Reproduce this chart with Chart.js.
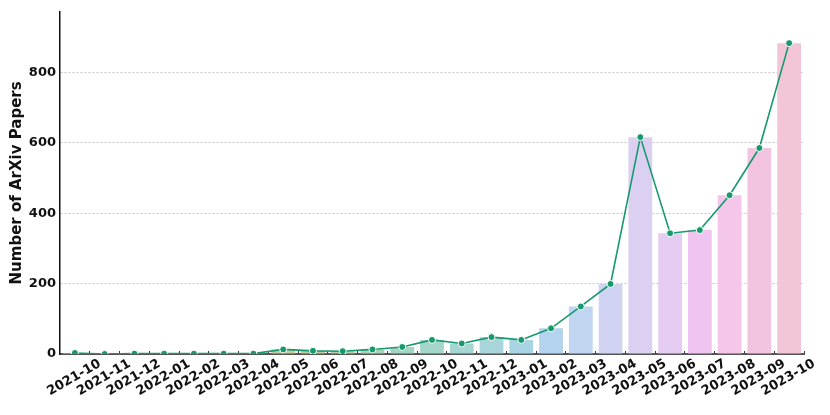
<!DOCTYPE html>
<html>
<head>
<meta charset="utf-8">
<script src="https://cdn.jsdelivr.net/npm/chart.js@4.4.1/dist/chart.umd.min.js"></script>
<style>
  html, body { margin: 0; padding: 0; background: #fff; }
  #wrap { width: 830px; height: 415px; position: relative; }
</style>
</head>
<body>
<div id="wrap"><canvas id="c" width="830" height="415"></canvas></div>
<script>
const months = ["2021-10","2021-11","2021-12","2022-01","2022-02","2022-03","2022-04","2022-05","2022-06","2022-07","2022-08","2022-09","2022-10","2022-11","2022-12","2023-01","2023-02","2023-03","2023-04","2023-05","2023-06","2023-07","2023-08","2023-09","2023-10"];
const paperCounts = [3,0,1,1,1,1,1,13,9,8,13,20,40,30,48,40,73,135,199,616,343,352,451,585,883];
const yTickValues = [0,200,400,600,800];
const barColors = ["#f2b0b4","#f4b8a0","#efbf9c","#e6c49a","#ddc79a","#d5c99a","#cdcb9a","#c4cc9c","#b9cf9e","#acd2a6","#a5d5b4","#a3d6c2","#a4d6cc","#a5d6d3","#a7d5da","#a9d4e3","#b3d3ee","#bfd5f0","#d0d4f2","#dbd0f2","#e5ccf2","#f0c4f0","#f3c6ea","#f2c4e0","#f2c6d8"];

const FONT = "'DejaVu Sans', sans-serif";

new Chart(document.getElementById('c'), {
  data: {
    labels: months,
    datasets: [
      {
        type: 'line',
        data: paperCounts,
        borderColor: '#17996f',
        backgroundColor: '#17996f',
        borderWidth: 1.6,
        pointRadius: 3.5,
        pointBorderColor: '#ffffff',
        pointBorderWidth: 1,
        pointBackgroundColor: '#17996f',
        tension: 0,
        order: 0
      },
      {
        type: 'bar',
        data: paperCounts,
        backgroundColor: barColors,
        borderWidth: 0,
        barPercentage: 0.8,
        categoryPercentage: 1.0,
        order: 1
      }
    ]
  },
  options: {
    responsive: false,
    animation: false,
    layout: { padding: { left: 0, right: 26, top: 10, bottom: 0 } },
    plugins: { legend: { display: false }, tooltip: { enabled: false } },
    scales: {
      x: {
        type: 'category',
        offset: true,
        grid: { display: true, drawOnChartArea: false, drawTicks: true, tickLength: -3, color: '#333333', lineWidth: 1 },
        border: { display: true, color: '#555555', width: 2 },
        ticks: {
          autoSkip: false,
          maxRotation: 30,
          minRotation: 30,
          labelOffset: 25,
          padding: 5,
          color: '#111111',
          font: { family: FONT, size: 13, weight: 'bold' }
        },
        afterFit: (s) => { s.height = 61; }
      },
      y: {
        type: 'linear',
        min: 0,
        max: 972,
        z: 1,
        afterBuildTicks: (s) => { s.ticks = yTickValues.map(v => ({ value: v })); },
        grid: { display: true, drawTicks: false, tickLength: 0, color: (ctx) => ctx.tick && ctx.tick.value === 0 ? 'rgba(0,0,0,0)' : '#c6c6c6', lineWidth: 1 },
        border: { display: true, color: '#111111', width: 1.5, dash: [2, 2] },
        ticks: {
          padding: 4,
          color: '#111111',
          font: { family: FONT, size: 13, weight: 'bold' }
        },
        title: {
          display: true,
          text: 'Number of ArXiv Papers',
          color: '#111111',
          padding: { top: 8, bottom: 0 },
          font: { family: FONT, size: 15, weight: 'bold' }
        },
        afterFit: (s) => { s.width = 60; }
      }
    }
  }
});
</script>
</body>
</html>
